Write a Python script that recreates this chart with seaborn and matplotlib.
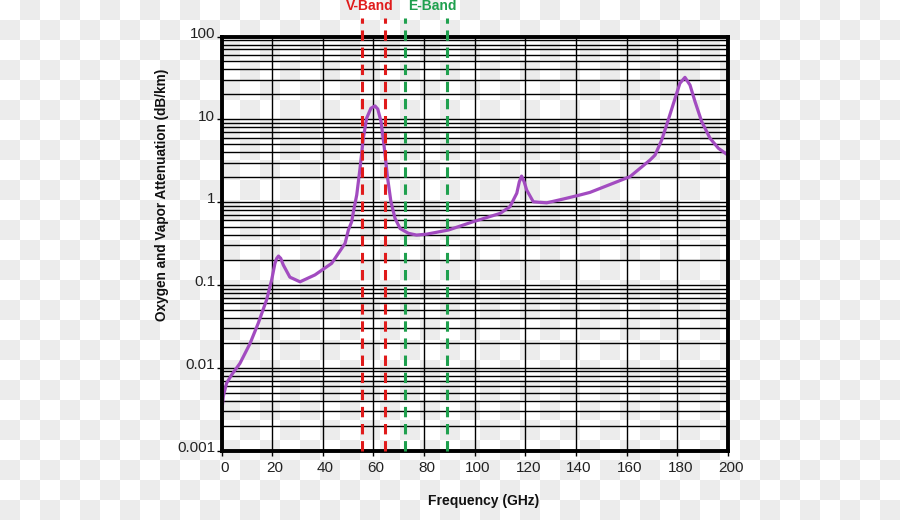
import numpy as np
import pandas as pd
import matplotlib
matplotlib.use("Agg")
import matplotlib.pyplot as plt
import matplotlib.transforms as mtransforms
from matplotlib.colors import ListedColormap
from matplotlib.ticker import LogLocator, NullFormatter, NullLocator
import seaborn as sns

# ---- data ----
freq = [0.1, 0.7, 2.0, 4.0, 7.3, 11.3, 14.5, 17.8, 19.8, 21.1, 21.8, 22.5, 23.4, 24.4,
        27.0, 31.0, 36.9, 43.5, 47.5, 48.8, 50.1, 51.4, 52.2, 53.4, 54.7, 56.0, 57.3,
        59.0, 60.6, 61.7, 63.0, 64.3, 65.6, 66.9, 68.5, 70.5, 73.8, 77.0, 81.0, 89.6,
        99.4, 110.0, 113.9, 116.6, 117.6, 118.5, 119.5, 120.5, 123.1, 128.4, 135.0,
        141.6, 145.5, 161.3, 169.2, 171.2, 173.8, 176.4, 179.1, 181.0, 183.0, 185.0,
        187.0, 189.6, 192.9, 196.2, 199.5]
atten = [0.0029, 0.0045, 0.0065, 0.0082, 0.0113, 0.0197, 0.0344, 0.0658, 0.1145, 0.182,
         0.209, 0.223, 0.209, 0.174, 0.124, 0.109, 0.132, 0.182, 0.277, 0.318, 0.46,
         0.58, 0.80, 1.22, 2.56, 5.9, 10.3, 13.6, 14.5, 13.3, 9.4, 4.47, 1.94, 1.01,
         0.64, 0.48, 0.42, 0.40, 0.41, 0.46, 0.58, 0.73, 0.88, 1.28, 1.76, 2.06, 1.76,
         1.40, 1.01, 0.98, 1.09, 1.22, 1.31, 2.03, 3.22, 3.7, 5.6, 9.8, 17.9, 27.2,
         32.1, 25.9, 16.3, 9.4, 5.9, 4.47, 3.78]

x_ticks = [0, 20, 40, 60, 80, 100, 120, 140, 160, 180, 200]
y_ticks = [0.001, 0.01, 0.1, 1, 10, 100]
y_tick_labels = ["0.001", "0.01", "0.1", "1", "10", "100"]

band_names = ["V-Band", "E-Band"]
band_edges = [[55.5, 64.5], [72.5, 89.0]]
band_label_x = [58.5, 83.2]
band_colors = ["#e01b1b", "#1fa04e"]

x_label = "Frequency (GHz)"
y_label = "Oxygen and Vapor Attenuation (dB/km)"

# ---- style ----
sns.set_theme(style="white")
plt.rcParams['font.family'] = ['Liberation Sans', 'DejaVu Sans']

W, H = 900, 520
fig = plt.figure(figsize=(W / 100, H / 100), dpi=100)

# checkerboard background
bg = fig.add_axes([0, 0, 1, 1], zorder=-10)
cells = np.add.outer(np.arange(26), np.arange(45)) % 2
bg.imshow(cells, cmap=ListedColormap(["#ffffff", "#ececec"]), interpolation="nearest",
          aspect="auto", extent=(0, 45, 26, 0))
bg.set_xlim(0, 45)
bg.set_ylim(26, 0)
bg.axis("off")

left, right, top, bottom = 221.5, 728.0, 36.5, 450.5
ax = fig.add_axes([left / W, 1 - bottom / H, (right - left) / W, (bottom - top) / H])
ax.patch.set_alpha(0)

df = pd.DataFrame({"freq": freq, "atten": atten})
sns.lineplot(data=df, x="freq", y="atten", ax=ax, color="#a24bc0", lw=2.3,
             zorder=5, solid_capstyle="round", solid_joinstyle="round")

ax.set_yscale("log")
ax.set_xlim(0, 200)
ax.set_ylim(0.001, 100)

ax.set_xticks(x_ticks)
ax.set_xticklabels([str(v) for v in x_ticks])
ax.set_yticks(y_ticks)
ax.set_yticklabels(y_tick_labels)
ax.yaxis.set_minor_locator(LogLocator(base=10, subs=np.arange(2, 10)))
ax.yaxis.set_minor_formatter(NullFormatter())
ax.xaxis.set_minor_locator(NullLocator())

ax.grid(True, which="major", axis="both", color="black", lw=1.0, zorder=1)
ax.grid(True, which="minor", axis="y", color="black", lw=1.0, zorder=1)

for s in ax.spines.values():
    s.set_color("black")
    s.set_linewidth(2.8)
    s.set_zorder(6)

ax.tick_params(axis="both", which="major", direction="out", length=3.5, width=1,
               color="black", labelsize=11, labelcolor="#222222")
ax.tick_params(axis="x", which="major", pad=4)
ax.tick_params(axis="y", which="major", pad=1)
ax.tick_params(axis="y", which="minor", length=0)
ax.tick_params(left=True, bottom=True)

# y tick labels sit slightly above their gridlines in the reference
shift_up = mtransforms.ScaledTranslation(0, 3 / 72, fig.dpi_scale_trans)
for lab in ax.get_yticklabels():
    lab.set_transform(lab.get_transform() + shift_up)
shift_right = mtransforms.ScaledTranslation(2 / 72, 0, fig.dpi_scale_trans)
for lab in ax.get_xticklabels():
    lab.set_transform(lab.get_transform() + shift_right)

ax.set_xlabel(x_label, fontsize=10, fontweight="bold", color="#111111")
ax.xaxis.set_label_coords(0.517, -0.106)
ax.set_ylabel(y_label, fontsize=9.8, fontweight="bold", color="#111111")
ax.yaxis.set_label_coords(-0.104, 0.617)

# band markers
trans = mtransforms.blended_transform_factory(ax.transData, ax.transAxes)
for name, edges, lx, col in zip(band_names, band_edges, band_label_x, band_colors):
    for e in edges:
        ax.plot([e, e], [0, 1.045], transform=trans, color=col, lw=2.2,
                dashes=(3.4, 2.2), clip_on=False, zorder=7)
    tt = mtransforms.blended_transform_factory(ax.transData, fig.transFigure)
    ax.text(lx, 1 - 5.5 / H, name, transform=tt, color=col, fontsize=10,
            fontweight="bold", ha="center", va="center")

fig.savefig("out.png", dpi=100)
